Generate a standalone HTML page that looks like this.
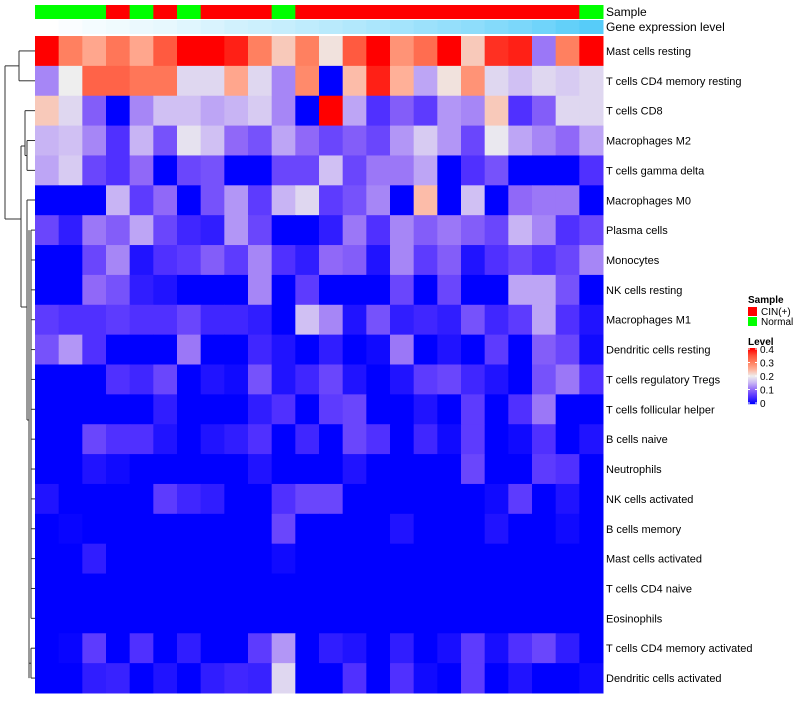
<!DOCTYPE html>
<html><head><meta charset="utf-8"><style>
body{margin:0;background:#fff;font-family:"Liberation Sans",sans-serif}
svg text{font-family:"Liberation Sans",sans-serif}
</style></head><body>
<svg id="chart" width="800" height="700" xmlns="http://www.w3.org/2000/svg">
<g id="dendro" stroke="#333" stroke-width="1" fill="none"></g>
<g id="annot"></g>
<g id="cells"></g>
<g id="labels" font-size="11" fill="#000"></g>
<text x="606" y="16" font-size="12">Sample</text>
<text x="606" y="31" font-size="12">Gene expression level</text>
<g id="legend" font-size="10"></g>
</svg>
<script>
const rowNames = ["Mast cells resting","T cells CD4 memory resting","T cells CD8","Macrophages M2","T cells gamma delta","Macrophages M0","Plasma cells","Monocytes","NK cells resting","Macrophages M1","Dendritic cells resting","T cells regulatory  Tregs","T cells follicular helper","B cells naive","Neutrophils","NK cells activated","B cells memory","Mast cells activated","T cells CD4 naive","Eosinophils","T cells CD4 memory activated","Dendritic cells activated"];
const sampleGroups = ["Normal","Normal","Normal","CIN(+)","Normal","CIN(+)","Normal","CIN(+)","CIN(+)","CIN(+)","Normal","CIN(+)","CIN(+)","CIN(+)","CIN(+)","CIN(+)","CIN(+)","CIN(+)","CIN(+)","CIN(+)","CIN(+)","CIN(+)","CIN(+)","Normal"];
const geneLevel = [0,0.03,0.06,0.08,0.11,0.13,0.17,0.21,0.25,0.28,0.31,0.35,0.38,0.42,0.46,0.5,0.54,0.58,0.62,0.67,0.72,0.78,0.85,0.92];
const values = [
[0.4,0.3,0.26,0.31,0.26,0.34,0.4,0.4,0.38,0.3,0.23,0.3,0.21,0.34,0.4,0.28,0.32,0.4,0.23,0.37,0.38,0.11,0.3,0.4],
[0.12,0.2,0.33,0.33,0.31,0.31,0.18,0.18,0.26,0.18,0.12,0.29,0,0.24,0.38,0.25,0.14,0.21,0.28,0.18,0.16,0.18,0.17,0.18],
[0.23,0.18,0.09,0,0.12,0.16,0.16,0.14,0.15,0.17,0.12,0,0.4,0.14,0.05,0.09,0.06,0.13,0.12,0.23,0.05,0.09,0.18,0.18],
[0.15,0.16,0.12,0.05,0.15,0.08,0.19,0.16,0.1,0.08,0.14,0.1,0.07,0.09,0.07,0.13,0.17,0.13,0.07,0.195,0.14,0.12,0.1,0.14],
[0.14,0.17,0.07,0.05,0.1,0,0.07,0.08,0,0,0.07,0.07,0.16,0.07,0.11,0.11,0.14,0,0.05,0.08,0,0,0,0.05],
[0,0,0,0.15,0.06,0.1,0,0.08,0.13,0.06,0.15,0.18,0.06,0.08,0.12,0,0.24,0,0.16,0,0.1,0.11,0.11,0],
[0.07,0.03,0.11,0.09,0.14,0.07,0.04,0.03,0.13,0.07,0,0,0.03,0.11,0.05,0.12,0.09,0.11,0.09,0.07,0.15,0.12,0.05,0.07],
[0,0,0.07,0.12,0.02,0.05,0.06,0.09,0.06,0.12,0.05,0.03,0.1,0.09,0.02,0.12,0.06,0.09,0.02,0.05,0.07,0.05,0.07,0.12],
[0,0,0.1,0.08,0.03,0.02,0,0,0,0.12,0,0.06,0,0,0,0.07,0,0.07,0,0,0.14,0.14,0.08,0],
[0.06,0.05,0.05,0.06,0.05,0.05,0.07,0.04,0.04,0.03,0,0.16,0.12,0.02,0.08,0.03,0.04,0.03,0.08,0.04,0.06,0.14,0.05,0.02],
[0.08,0.13,0.05,0,0,0,0.11,0,0,0.04,0.02,0,0.03,0,0.01,0.11,0,0.02,0,0.06,0,0.09,0.07,0.01],
[0,0,0,0.05,0.04,0.07,0,0.02,0.01,0.08,0.02,0.04,0.07,0.02,0,0.02,0.06,0.07,0.04,0.02,0,0.08,0.11,0.05],
[0,0,0,0,0,0.03,0,0,0,0.03,0.05,0,0.06,0.07,0,0,0.02,0,0.06,0,0.05,0.11,0,0],
[0,0,0.07,0.05,0.05,0.02,0,0.02,0.03,0.05,0,0.04,0,0.07,0.05,0,0.04,0.01,0.06,0,0.01,0.05,0,0.02],
[0,0,0.02,0.01,0,0,0,0,0,0.02,0,0,0,0.02,0,0,0,0,0.07,0,0,0.06,0.05,0],
[0.02,0,0,0,0,0.06,0.04,0.03,0,0,0.05,0.07,0.07,0,0,0,0,0,0,0.01,0.06,0,0.02,0],
[0,0.005,0,0,0,0,0,0,0,0,0.07,0,0,0,0,0.02,0,0,0,0.02,0,0,0.01,0],
[0,0,0.03,0,0,0,0,0,0,0,0.01,0,0,0,0,0,0,0,0,0,0,0,0,0],
[0,0,0,0,0,0,0,0,0,0,0,0,0,0,0,0,0,0,0,0,0,0,0,0],
[0,0,0,0,0,0,0,0,0,0,0,0,0,0,0,0,0,0,0,0,0,0,0,0],
[0,0.005,0.06,0,0.05,0,0.03,0,0,0.06,0.13,0,0.03,0.02,0,0.03,0,0.015,0.06,0.015,0.05,0.07,0.03,0],
[0,0,0.03,0.035,0,0.02,0,0.03,0.04,0.035,0.18,0,0,0.05,0,0.05,0.01,0,0.06,0,0.02,0,0,0.01]
];
const legendTicks = [0,0.1,0.2,0.3,0.4];
const legendGroups = ["CIN(+)","Normal"];

const NS="http://www.w3.org/2000/svg";
const X0=35, X1=603, Y0=36, Y1=693;
const nC=sampleGroups.length, nR=rowNames.length;
const cw=(X1-X0)/nC, rh=(Y1-Y0)/nR;
const xPos=c=>X0+c*cw, yPos=r=>Y0+r*rh;
const stops=[[0,[0,0,255]],[0.05,[80,48,255]],[0.1,[144,104,248]],[0.15,[200,180,244]],[0.2,[238,238,238]],[0.25,[255,176,152]],[0.3,[255,128,96]],[0.35,[255,80,56]],[0.4,[255,0,0]]];
function col(v){v=Math.max(0,Math.min(0.4,v));for(let i=1;i<stops.length;i++){if(v<=stops[i][0]){const a=stops[i-1],b=stops[i],t=(v-a[0])/(b[0]-a[0]);return "rgb("+a[1].map((x,k)=>Math.round(x+(b[1][k]-x)*t)).join(",")+")";}}return "rgb(255,0,0)";}
function geneCol(t){const a=[255,255,255],b=[72,200,248];return "rgb("+a.map((x,k)=>Math.round(x+(b[k]-x)*t)).join(",")+")";}
function mk(tag,attrs,parent){const e=document.createElementNS(NS,tag);for(const k in attrs)e.setAttribute(k,attrs[k]);parent.appendChild(e);return e;}
const cells=document.getElementById('cells');
for(let r=0;r<nR;r++)for(let c=0;c<nC;c++){
 const e=mk('rect',{x:xPos(c),y:yPos(r),width:cw+0.5,height:rh+0.5,fill:col(values[r][c])},cells);
 
 
}
const annot=document.getElementById('annot');
for(let c=0;c<nC;c++){
 const e=mk('rect',{x:xPos(c),y:5,width:cw+0.5,height:14,fill:sampleGroups[c]==="Normal"?"#00ff00":"#ff0000"},annot);
 
 
 const g=mk('rect',{x:xPos(c),y:20,width:cw+0.5,height:14,fill:geneCol(geneLevel[c])},annot);
 
 
}
const labels=document.getElementById('labels');
rowNames.forEach((n,r)=>{
 const t=mk('text',{x:606,y:yPos(r)+rh/2+4},labels);t.textContent=n;
 
 
});
// dendrogram (approximate)
const d=document.getElementById('dendro');
const ym=r=>yPos(r)+rh/2;
function L(x1,y1,x2,y2){mk('line',{x1,y1,x2,y2},d);}
L(19,ym(0),35,ym(0));L(19,ym(1),35,ym(1));L(19,ym(0),19,ym(1));
const topY=(ym(0)+ym(1))/2, botY=219;
L(5,topY,19,topY);L(5,topY,5,botY);L(5,botY,21,botY);
L(21,146,21,307);L(21,146,25,146);L(21,307,27,307);
L(25,ym(2),35,ym(2));L(25,ym(3)+15,25,ym(2));L(25,ym(3)+15,27,ym(3)+15);
L(27,ym(3),35,ym(3));L(27,ym(4),35,ym(4));L(27,ym(3),27,ym(4));
L(27,200,27,420);L(27,200,35,200);L(27,420,29,420);
for(let r=6;r<nR;r++){L(31,ym(r),35,ym(r));}
L(29,ym(6),29,ym(21));L(31,ym(6),31,ym(19));L(31,ym(20),31,ym(21));L(29,ym(20)+15,31,ym(20)+15);
// legend
const lg=document.getElementById('legend');
let t=mk('text',{x:748,y:303,'font-weight':'bold'},lg);t.textContent="Sample";
legendGroups.forEach((g,i)=>{
 const r=mk('rect',{x:748,y:307+i*10,width:9,height:9,fill:g==="Normal"?"#00ff00":"#ff0000"},lg);
 
 
 const tt=mk('text',{x:761,y:315+i*10},lg);tt.textContent=g;
 
 
});
t=mk('text',{x:748,y:345,'font-weight':'bold'},lg);t.textContent="Level";
const BY0=348,BY1=404;
for(let i=0;i<56;i++){mk('rect',{x:748,y:BY1-i-1,width:9,height:1.2,fill:col(0.4*i/55)},lg);}
legendTicks.forEach(v=>{
 const y=BY1-(v/0.4)*(BY1-BY0-2)-1;
 mk('line',{x1:748,y1:y,x2:750,y2:y,stroke:'#fff'},lg);mk('line',{x1:755,y1:y,x2:757,y2:y,stroke:'#fff'},lg);
 const tt=mk('text',{x:760,y:y+4},lg);tt.textContent=v===0?"0":v.toFixed(1);
 
 
});
</script>
</body></html>
